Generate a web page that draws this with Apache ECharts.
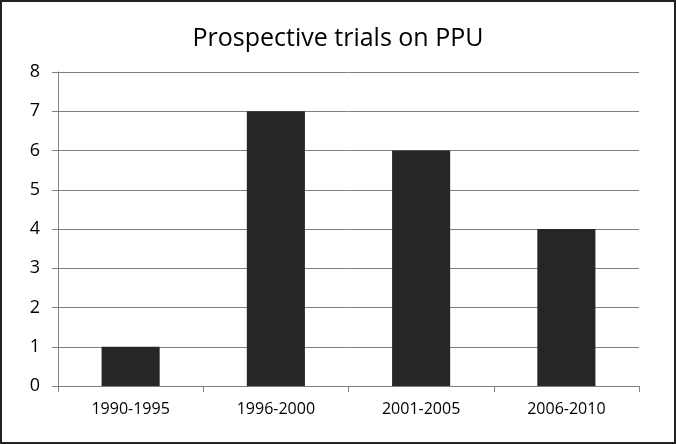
<!DOCTYPE html>
<html>
<head>
<meta charset="utf-8">
<script src="https://cdn.jsdelivr.net/npm/echarts@6/dist/echarts.min.js"></script>
<style>
  html, body { margin: 0; padding: 0; background: #fff; }
  #chart { width: 676px; height: 444px; box-sizing: border-box; border: 2px solid #222; }
</style>
</head>
<body>
<div id="chart"></div>
<script>
const categories = ["1990-1995", "1996-2000", "2001-2005", "2006-2010"];
const trials = [1, 7, 6, 4];
const titleText = "Prospective trials on PPU";

const chart = echarts.init(document.getElementById("chart"));
chart.setOption({
  animation: false,
  title: {
    text: titleText,
    left: "center",
    top: 19,
    textStyle: { fontFamily: "Open Sans", fontSize: 25, fontWeight: "normal", color: "#000" },
  },
  grid: { left: 56, right: 35, top: 70, bottom: 56 },
  xAxis: {
    type: "category",
    data: categories,
    axisLine: { lineStyle: { color: "#808080", width: 1 } },
    axisTick: { show: true, alignWithLabel: false, length: 6, lineStyle: { color: "#808080" } },
    axisLabel: { color: "#000", fontFamily: "Open Sans", fontSize: 16, margin: 15 },
  },
  yAxis: {
    type: "value",
    min: 0,
    max: 8,
    interval: 1,
    axisLine: { show: true, lineStyle: { color: "#808080", width: 1 } },
    axisTick: { show: true, inside: false, length: 6, lineStyle: { color: "#808080" } },
    axisLabel: { color: "#000", fontFamily: "Open Sans", fontSize: 18, margin: 18 },
    splitLine: { lineStyle: { color: "#808080", width: 1 } },
  },
  series: [
    {
      type: "bar",
      data: trials,
      barWidth: "40%",
      itemStyle: { color: "#262626" },
    },
  ],
});
</script>
</body>
</html>
